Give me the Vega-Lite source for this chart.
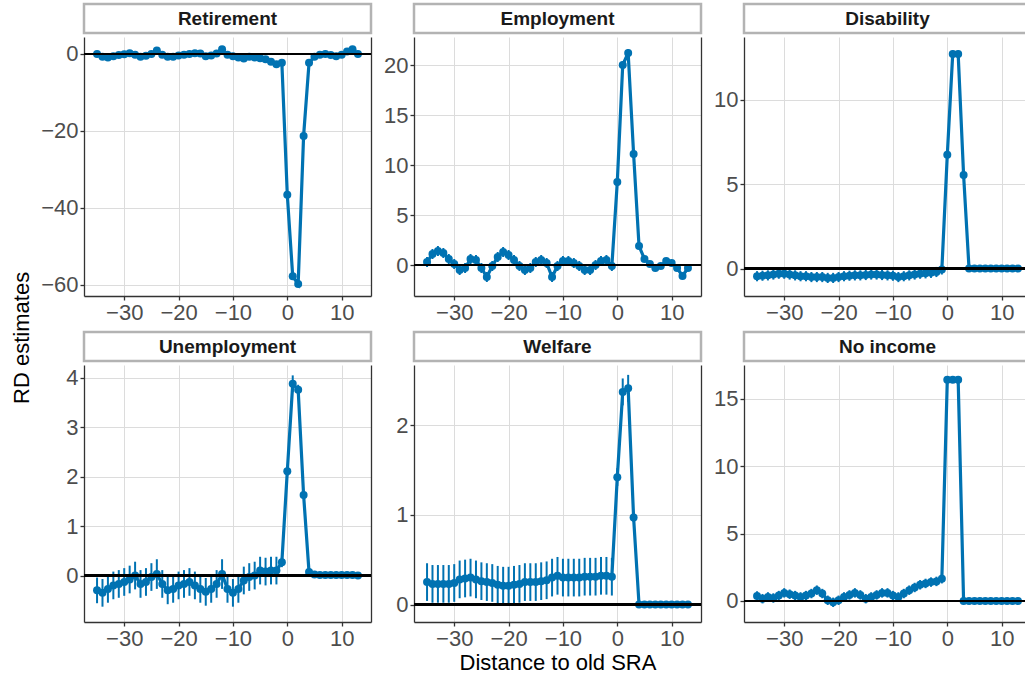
{
 "$schema": "https://vega.github.io/schema/vega-lite/v6.json",
 "padding": {"left": 10, "top": 2, "right": 0, "bottom": 0},
 "datasets": {
  "strips": [{"panel":"Retirement"},{"panel":"Employment"},{"panel":"Disability"},{"panel":"Unemployment"},{"panel":"Welfare"},{"panel":"No income"}],
  "rd": [
{"panel":"Retirement","x":-35,"y":0,"e":0.5},{"panel":"Retirement","x":-34,"y":-0.7,"e":0.5},{"panel":"Retirement","x":-33,"y":-0.9,"e":0.5},{"panel":"Retirement","x":-32,"y":-0.6,"e":0.5},{"panel":"Retirement","x":-31,"y":-0.3,"e":0.5},{"panel":"Retirement","x":-30,"y":-0.1,"e":0.5},{"panel":"Retirement","x":-29,"y":0.2,"e":0.5},{"panel":"Retirement","x":-28,"y":-0.2,"e":0.5},{"panel":"Retirement","x":-27,"y":-0.7,"e":0.5},{"panel":"Retirement","x":-26,"y":-0.5,"e":0.5},{"panel":"Retirement","x":-25,"y":0,"e":0.5},{"panel":"Retirement","x":-24,"y":0.9,"e":0.5},{"panel":"Retirement","x":-23,"y":-0.2,"e":0.5},{"panel":"Retirement","x":-22,"y":-0.7,"e":0.5},{"panel":"Retirement","x":-21,"y":-0.7,"e":0.5},{"panel":"Retirement","x":-20,"y":-0.4,"e":0.5},{"panel":"Retirement","x":-19,"y":-0.2,"e":0.5},{"panel":"Retirement","x":-18,"y":0,"e":0.5},{"panel":"Retirement","x":-17,"y":0.2,"e":0.5},{"panel":"Retirement","x":-16,"y":0.1,"e":0.5},{"panel":"Retirement","x":-15,"y":-0.6,"e":0.5},{"panel":"Retirement","x":-14,"y":-0.4,"e":0.5},{"panel":"Retirement","x":-13,"y":0.1,"e":0.5},{"panel":"Retirement","x":-12,"y":1.2,"e":0.5},{"panel":"Retirement","x":-11,"y":-0.2,"e":0.5},{"panel":"Retirement","x":-10,"y":-0.6,"e":0.5},{"panel":"Retirement","x":-9,"y":-0.9,"e":0.5},{"panel":"Retirement","x":-8,"y":-1.2,"e":0.5},{"panel":"Retirement","x":-7,"y":-0.7,"e":0.5},{"panel":"Retirement","x":-6,"y":-0.9,"e":0.5},{"panel":"Retirement","x":-5,"y":-1.1,"e":0.5},{"panel":"Retirement","x":-4,"y":-1.4,"e":0.5},{"panel":"Retirement","x":-3,"y":-2.0,"e":0.5},{"panel":"Retirement","x":-2,"y":-2.7,"e":0.5},{"panel":"Retirement","x":-1,"y":-2.3,"e":0.5},{"panel":"Retirement","x":0,"y":-36.6,"e":0.6},{"panel":"Retirement","x":1,"y":-57.8,"e":0.6},{"panel":"Retirement","x":2,"y":-59.8,"e":0.6},{"panel":"Retirement","x":3,"y":-21.3,"e":0.6},{"panel":"Retirement","x":4,"y":-2.3,"e":0.5},{"panel":"Retirement","x":5,"y":-0.7,"e":0.5},{"panel":"Retirement","x":6,"y":-0.2,"e":0.5},{"panel":"Retirement","x":7,"y":0,"e":0.5},{"panel":"Retirement","x":8,"y":-0.3,"e":0.5},{"panel":"Retirement","x":9,"y":-0.6,"e":0.5},{"panel":"Retirement","x":10,"y":-0.2,"e":0.5},{"panel":"Retirement","x":11,"y":0.6,"e":0.5},{"panel":"Retirement","x":12,"y":1.2,"e":0.5},{"panel":"Retirement","x":13,"y":0,"e":0.5},
{"panel":"Employment","x":-35,"y":0.3,"e":0.5},{"panel":"Employment","x":-34,"y":1.1,"e":0.5},{"panel":"Employment","x":-33,"y":1.4,"e":0.5},{"panel":"Employment","x":-32,"y":1.2,"e":0.5},{"panel":"Employment","x":-31,"y":0.6,"e":0.5},{"panel":"Employment","x":-30,"y":0.1,"e":0.5},{"panel":"Employment","x":-29,"y":-0.5,"e":0.5},{"panel":"Employment","x":-28,"y":-0.3,"e":0.5},{"panel":"Employment","x":-27,"y":0.6,"e":0.5},{"panel":"Employment","x":-26,"y":0.5,"e":0.5},{"panel":"Employment","x":-25,"y":-0.3,"e":0.5},{"panel":"Employment","x":-24,"y":-1.2,"e":0.5},{"panel":"Employment","x":-23,"y":-0.1,"e":0.5},{"panel":"Employment","x":-22,"y":0.8,"e":0.5},{"panel":"Employment","x":-21,"y":1.3,"e":0.5},{"panel":"Employment","x":-20,"y":1.0,"e":0.5},{"panel":"Employment","x":-19,"y":0.5,"e":0.5},{"panel":"Employment","x":-18,"y":-0.1,"e":0.5},{"panel":"Employment","x":-17,"y":-0.5,"e":0.5},{"panel":"Employment","x":-16,"y":-0.3,"e":0.5},{"panel":"Employment","x":-15,"y":0.3,"e":0.5},{"panel":"Employment","x":-14,"y":0.5,"e":0.5},{"panel":"Employment","x":-13,"y":0.2,"e":0.5},{"panel":"Employment","x":-12,"y":-1.2,"e":0.5},{"panel":"Employment","x":-11,"y":-0.1,"e":0.5},{"panel":"Employment","x":-10,"y":0.4,"e":0.5},{"panel":"Employment","x":-9,"y":0.4,"e":0.5},{"panel":"Employment","x":-8,"y":0.2,"e":0.5},{"panel":"Employment","x":-7,"y":-0.1,"e":0.5},{"panel":"Employment","x":-6,"y":-0.5,"e":0.5},{"panel":"Employment","x":-5,"y":-0.5,"e":0.5},{"panel":"Employment","x":-4,"y":0,"e":0.5},{"panel":"Employment","x":-3,"y":0.4,"e":0.5},{"panel":"Employment","x":-2,"y":0.5,"e":0.5},{"panel":"Employment","x":-1,"y":-0.1,"e":0.5},{"panel":"Employment","x":0,"y":8.3,"e":0.4},{"panel":"Employment","x":1,"y":20.0,"e":0.4},{"panel":"Employment","x":2,"y":21.2,"e":0.4},{"panel":"Employment","x":3,"y":11.1,"e":0.4},{"panel":"Employment","x":4,"y":1.9,"e":0.3},{"panel":"Employment","x":5,"y":0.6,"e":0.3},{"panel":"Employment","x":6,"y":0.1,"e":0.3},{"panel":"Employment","x":7,"y":-0.3,"e":0.3},{"panel":"Employment","x":8,"y":-0.1,"e":0.3},{"panel":"Employment","x":9,"y":0.4,"e":0.3},{"panel":"Employment","x":10,"y":0.2,"e":0.3},{"panel":"Employment","x":11,"y":-0.3,"e":0.3},{"panel":"Employment","x":12,"y":-1.1,"e":0.3},{"panel":"Employment","x":13,"y":-0.3,"e":0.3},
{"panel":"Disability","x":-35,"y":-0.45,"e":0.3},{"panel":"Disability","x":-34,"y":-0.42,"e":0.3},{"panel":"Disability","x":-33,"y":-0.4,"e":0.3},{"panel":"Disability","x":-32,"y":-0.35,"e":0.3},{"panel":"Disability","x":-31,"y":-0.3,"e":0.3},{"panel":"Disability","x":-30,"y":-0.3,"e":0.3},{"panel":"Disability","x":-29,"y":-0.35,"e":0.3},{"panel":"Disability","x":-28,"y":-0.4,"e":0.3},{"panel":"Disability","x":-27,"y":-0.45,"e":0.3},{"panel":"Disability","x":-26,"y":-0.45,"e":0.3},{"panel":"Disability","x":-25,"y":-0.5,"e":0.3},{"panel":"Disability","x":-24,"y":-0.5,"e":0.3},{"panel":"Disability","x":-23,"y":-0.5,"e":0.3},{"panel":"Disability","x":-22,"y":-0.55,"e":0.3},{"panel":"Disability","x":-21,"y":-0.55,"e":0.3},{"panel":"Disability","x":-20,"y":-0.5,"e":0.3},{"panel":"Disability","x":-19,"y":-0.45,"e":0.3},{"panel":"Disability","x":-18,"y":-0.42,"e":0.3},{"panel":"Disability","x":-17,"y":-0.4,"e":0.3},{"panel":"Disability","x":-16,"y":-0.4,"e":0.3},{"panel":"Disability","x":-15,"y":-0.38,"e":0.3},{"panel":"Disability","x":-14,"y":-0.35,"e":0.3},{"panel":"Disability","x":-13,"y":-0.35,"e":0.3},{"panel":"Disability","x":-12,"y":-0.38,"e":0.3},{"panel":"Disability","x":-11,"y":-0.4,"e":0.3},{"panel":"Disability","x":-10,"y":-0.42,"e":0.3},{"panel":"Disability","x":-9,"y":-0.5,"e":0.3},{"panel":"Disability","x":-8,"y":-0.45,"e":0.3},{"panel":"Disability","x":-7,"y":-0.4,"e":0.3},{"panel":"Disability","x":-6,"y":-0.35,"e":0.3},{"panel":"Disability","x":-5,"y":-0.3,"e":0.3},{"panel":"Disability","x":-4,"y":-0.28,"e":0.3},{"panel":"Disability","x":-3,"y":-0.25,"e":0.3},{"panel":"Disability","x":-2,"y":-0.2,"e":0.3},{"panel":"Disability","x":-1,"y":-0.05,"e":0.3},{"panel":"Disability","x":0,"y":6.73,"e":0.2},{"panel":"Disability","x":1,"y":12.7,"e":0.2},{"panel":"Disability","x":2,"y":12.7,"e":0.2},{"panel":"Disability","x":3,"y":5.54,"e":0.2},{"panel":"Disability","x":4,"y":0,"e":0.05},{"panel":"Disability","x":5,"y":0,"e":0.05},{"panel":"Disability","x":6,"y":0,"e":0.05},{"panel":"Disability","x":7,"y":0,"e":0.05},{"panel":"Disability","x":8,"y":0,"e":0.05},{"panel":"Disability","x":9,"y":0,"e":0.05},{"panel":"Disability","x":10,"y":0,"e":0.05},{"panel":"Disability","x":11,"y":0,"e":0.05},{"panel":"Disability","x":12,"y":0,"e":0.05},{"panel":"Disability","x":13,"y":0,"e":0.05},
{"panel":"Unemployment","x":-35,"y":-0.3,"e":0.26},{"panel":"Unemployment","x":-34,"y":-0.35,"e":0.28},{"panel":"Unemployment","x":-33,"y":-0.27,"e":0.28},{"panel":"Unemployment","x":-32,"y":-0.2,"e":0.28},{"panel":"Unemployment","x":-31,"y":-0.17,"e":0.28},{"panel":"Unemployment","x":-30,"y":-0.13,"e":0.28},{"panel":"Unemployment","x":-29,"y":-0.08,"e":0.28},{"panel":"Unemployment","x":-28,"y":0,"e":0.28},{"panel":"Unemployment","x":-27,"y":-0.17,"e":0.28},{"panel":"Unemployment","x":-26,"y":-0.13,"e":0.28},{"panel":"Unemployment","x":-25,"y":-0.03,"e":0.28},{"panel":"Unemployment","x":-24,"y":0.03,"e":0.3},{"panel":"Unemployment","x":-23,"y":-0.17,"e":0.28},{"panel":"Unemployment","x":-22,"y":-0.3,"e":0.28},{"panel":"Unemployment","x":-21,"y":-0.27,"e":0.28},{"panel":"Unemployment","x":-20,"y":-0.2,"e":0.28},{"panel":"Unemployment","x":-19,"y":-0.17,"e":0.28},{"panel":"Unemployment","x":-18,"y":-0.13,"e":0.28},{"panel":"Unemployment","x":-17,"y":-0.2,"e":0.28},{"panel":"Unemployment","x":-16,"y":-0.27,"e":0.28},{"panel":"Unemployment","x":-15,"y":-0.33,"e":0.28},{"panel":"Unemployment","x":-14,"y":-0.27,"e":0.28},{"panel":"Unemployment","x":-13,"y":-0.17,"e":0.28},{"panel":"Unemployment","x":-12,"y":0.03,"e":0.3},{"panel":"Unemployment","x":-11,"y":-0.27,"e":0.28},{"panel":"Unemployment","x":-10,"y":-0.35,"e":0.28},{"panel":"Unemployment","x":-9,"y":-0.27,"e":0.28},{"panel":"Unemployment","x":-8,"y":-0.1,"e":0.28},{"panel":"Unemployment","x":-7,"y":-0.03,"e":0.28},{"panel":"Unemployment","x":-6,"y":0,"e":0.28},{"panel":"Unemployment","x":-5,"y":0.1,"e":0.28},{"panel":"Unemployment","x":-4,"y":0.08,"e":0.28},{"panel":"Unemployment","x":-3,"y":0.1,"e":0.28},{"panel":"Unemployment","x":-2,"y":0.1,"e":0.28},{"panel":"Unemployment","x":-1,"y":0.27,"e":0.1},{"panel":"Unemployment","x":0,"y":2.11,"e":0.1},{"panel":"Unemployment","x":1,"y":3.88,"e":0.17},{"panel":"Unemployment","x":2,"y":3.76,"e":0.1},{"panel":"Unemployment","x":3,"y":1.63,"e":0.05},{"panel":"Unemployment","x":4,"y":0.07,"e":0.03},{"panel":"Unemployment","x":5,"y":0.02,"e":0.02},{"panel":"Unemployment","x":6,"y":0.01,"e":0.02},{"panel":"Unemployment","x":7,"y":0.01,"e":0.02},{"panel":"Unemployment","x":8,"y":0.01,"e":0.02},{"panel":"Unemployment","x":9,"y":0.01,"e":0.02},{"panel":"Unemployment","x":10,"y":0.01,"e":0.02},{"panel":"Unemployment","x":11,"y":0.01,"e":0.02},{"panel":"Unemployment","x":12,"y":0.01,"e":0.02},{"panel":"Unemployment","x":13,"y":0,"e":0.02},
{"panel":"Welfare","x":-35,"y":0.25,"e":0.21},{"panel":"Welfare","x":-34,"y":0.23,"e":0.21},{"panel":"Welfare","x":-33,"y":0.23,"e":0.21},{"panel":"Welfare","x":-32,"y":0.23,"e":0.21},{"panel":"Welfare","x":-31,"y":0.23,"e":0.21},{"panel":"Welfare","x":-30,"y":0.24,"e":0.21},{"panel":"Welfare","x":-29,"y":0.28,"e":0.21},{"panel":"Welfare","x":-28,"y":0.29,"e":0.21},{"panel":"Welfare","x":-27,"y":0.3,"e":0.21},{"panel":"Welfare","x":-26,"y":0.28,"e":0.21},{"panel":"Welfare","x":-25,"y":0.26,"e":0.21},{"panel":"Welfare","x":-24,"y":0.25,"e":0.21},{"panel":"Welfare","x":-23,"y":0.24,"e":0.21},{"panel":"Welfare","x":-22,"y":0.22,"e":0.21},{"panel":"Welfare","x":-21,"y":0.21,"e":0.21},{"panel":"Welfare","x":-20,"y":0.21,"e":0.21},{"panel":"Welfare","x":-19,"y":0.22,"e":0.21},{"panel":"Welfare","x":-18,"y":0.23,"e":0.21},{"panel":"Welfare","x":-17,"y":0.25,"e":0.21},{"panel":"Welfare","x":-16,"y":0.25,"e":0.21},{"panel":"Welfare","x":-15,"y":0.25,"e":0.21},{"panel":"Welfare","x":-14,"y":0.26,"e":0.21},{"panel":"Welfare","x":-13,"y":0.27,"e":0.21},{"panel":"Welfare","x":-12,"y":0.3,"e":0.21},{"panel":"Welfare","x":-11,"y":0.32,"e":0.21},{"panel":"Welfare","x":-10,"y":0.3,"e":0.21},{"panel":"Welfare","x":-9,"y":0.3,"e":0.21},{"panel":"Welfare","x":-8,"y":0.3,"e":0.21},{"panel":"Welfare","x":-7,"y":0.3,"e":0.21},{"panel":"Welfare","x":-6,"y":0.31,"e":0.21},{"panel":"Welfare","x":-5,"y":0.31,"e":0.21},{"panel":"Welfare","x":-4,"y":0.31,"e":0.21},{"panel":"Welfare","x":-3,"y":0.32,"e":0.21},{"panel":"Welfare","x":-2,"y":0.32,"e":0.21},{"panel":"Welfare","x":-1,"y":0.31,"e":0.21},{"panel":"Welfare","x":0,"y":1.42,"e":0.1},{"panel":"Welfare","x":1,"y":2.37,"e":0.15},{"panel":"Welfare","x":2,"y":2.41,"e":0.15},{"panel":"Welfare","x":3,"y":0.97,"e":0.05},{"panel":"Welfare","x":4,"y":0,"e":0.01},{"panel":"Welfare","x":5,"y":0,"e":0.01},{"panel":"Welfare","x":6,"y":0,"e":0.01},{"panel":"Welfare","x":7,"y":0,"e":0.01},{"panel":"Welfare","x":8,"y":0,"e":0.01},{"panel":"Welfare","x":9,"y":0,"e":0.01},{"panel":"Welfare","x":10,"y":0,"e":0.01},{"panel":"Welfare","x":11,"y":0,"e":0.01},{"panel":"Welfare","x":12,"y":0,"e":0.01},{"panel":"Welfare","x":13,"y":0,"e":0.01},
{"panel":"No income","x":-35,"y":0.37,"e":0.35},{"panel":"No income","x":-34,"y":0.17,"e":0.35},{"panel":"No income","x":-33,"y":0.3,"e":0.35},{"panel":"No income","x":-32,"y":0.22,"e":0.35},{"panel":"No income","x":-31,"y":0.4,"e":0.35},{"panel":"No income","x":-30,"y":0.6,"e":0.35},{"panel":"No income","x":-29,"y":0.5,"e":0.35},{"panel":"No income","x":-28,"y":0.4,"e":0.35},{"panel":"No income","x":-27,"y":0.3,"e":0.35},{"panel":"No income","x":-26,"y":0.4,"e":0.35},{"panel":"No income","x":-25,"y":0.55,"e":0.35},{"panel":"No income","x":-24,"y":0.8,"e":0.35},{"panel":"No income","x":-23,"y":0.55,"e":0.35},{"panel":"No income","x":-22,"y":0.05,"e":0.35},{"panel":"No income","x":-21,"y":-0.1,"e":0.35},{"panel":"No income","x":-20,"y":0.05,"e":0.35},{"panel":"No income","x":-19,"y":0.3,"e":0.35},{"panel":"No income","x":-18,"y":0.45,"e":0.35},{"panel":"No income","x":-17,"y":0.6,"e":0.35},{"panel":"No income","x":-16,"y":0.45,"e":0.35},{"panel":"No income","x":-15,"y":0.17,"e":0.35},{"panel":"No income","x":-14,"y":0.3,"e":0.35},{"panel":"No income","x":-13,"y":0.45,"e":0.35},{"panel":"No income","x":-12,"y":0.6,"e":0.35},{"panel":"No income","x":-11,"y":0.6,"e":0.35},{"panel":"No income","x":-10,"y":0.4,"e":0.35},{"panel":"No income","x":-9,"y":0.3,"e":0.35},{"panel":"No income","x":-8,"y":0.55,"e":0.35},{"panel":"No income","x":-7,"y":0.8,"e":0.35},{"panel":"No income","x":-6,"y":1.0,"e":0.35},{"panel":"No income","x":-5,"y":1.2,"e":0.35},{"panel":"No income","x":-4,"y":1.3,"e":0.35},{"panel":"No income","x":-3,"y":1.4,"e":0.35},{"panel":"No income","x":-2,"y":1.45,"e":0.35},{"panel":"No income","x":-1,"y":1.65,"e":0.35},{"panel":"No income","x":0,"y":16.4,"e":0.2},{"panel":"No income","x":1,"y":16.4,"e":0.2},{"panel":"No income","x":2,"y":16.4,"e":0.2},{"panel":"No income","x":3,"y":0,"e":0.05},{"panel":"No income","x":4,"y":0,"e":0.05},{"panel":"No income","x":5,"y":0,"e":0.05},{"panel":"No income","x":6,"y":0,"e":0.05},{"panel":"No income","x":7,"y":0,"e":0.05},{"panel":"No income","x":8,"y":0,"e":0.05},{"panel":"No income","x":9,"y":0,"e":0.05},{"panel":"No income","x":10,"y":0,"e":0.05},{"panel":"No income","x":11,"y":0,"e":0.05},{"panel":"No income","x":12,"y":0,"e":0.05},{"panel":"No income","x":13,"y":0,"e":0.05}
  ]
 },
 "title": {"text": "RD estimates", "orient": "left", "anchor": "middle", "fontSize": 22, "fontWeight": "normal", "color": "black", "offset": 7},
 "columns": 3,
 "align": "each",
 "spacing": {"row": 7, "column": 10},
 "concat": [
  {"spacing": 2, "vconcat": [
   {"width": 287, "height": 29, "view": {"stroke": "#b3b3b3", "strokeWidth": 2.5, "fill": "white"}, "data": {"name": "strips"}, "transform": [{"filter": "datum.panel === 'Retirement'"}],
    "mark": {"type": "text", "fontSize": 19, "fontWeight": "bold", "color": "#1a1a1a", "baseline": "middle", "align": "center"}, "encoding": {"text": {"field": "panel"}}},
   {"width": 287, "height": 259, "data": {"name": "rd"}, "transform": [{"filter": "datum.panel === 'Retirement'"}], "resolve": {"axis": {"y": "independent"}},
    "layer": [
     {"mark": {"type": "errorbar", "color": "#0072B2", "thickness": 2}, "encoding": {"x": {"field": "x", "type": "quantitative", "scale": {"domain": [-37.4, 15.4], "nice": false, "zero": false}, "axis": {"values": [-30,-20,-10,0,10], "title": null}}, "y": {"field": "y", "type": "quantitative", "scale": {"domain": [-62.9, 4.4], "nice": false, "zero": false}, "axis": null}, "yError": {"field": "e"}}},
     {"mark": {"type": "line", "color": "#0072B2", "strokeWidth": 3.2}, "encoding": {"x": {"field": "x", "type": "quantitative"}, "y": {"field": "y", "type": "quantitative", "scale": {"domain": [-62.9, 4.4], "nice": false, "zero": false}, "axis": {"values": [-60,-40,-20,0], "title": null, "grid": true}}}},
     {"mark": {"type": "circle", "color": "#0072B2", "size": 64, "opacity": 1}, "encoding": {"x": {"field": "x", "type": "quantitative"}, "y": {"field": "y", "type": "quantitative", "axis": null}}},
     {"mark": {"type": "rule", "color": "black", "strokeWidth": 1.5}, "encoding": {"y": {"datum": 0, "type": "quantitative", "axis": {"orient": "right", "labels": false, "ticks": false, "grid": false, "domain": true, "title": null}}}}
    ]}
  ]},
  {"spacing": 2, "vconcat": [
   {"width": 287, "height": 29, "view": {"stroke": "#b3b3b3", "strokeWidth": 2.5, "fill": "white"}, "data": {"name": "strips"}, "transform": [{"filter": "datum.panel === 'Employment'"}],
    "mark": {"type": "text", "fontSize": 19, "fontWeight": "bold", "color": "#1a1a1a", "baseline": "middle", "align": "center"}, "encoding": {"text": {"field": "panel"}}},
   {"width": 287, "height": 259, "data": {"name": "rd"}, "transform": [{"filter": "datum.panel === 'Employment'"}], "resolve": {"axis": {"y": "independent"}},
    "layer": [
     {"mark": {"type": "errorbar", "color": "#0072B2", "thickness": 2}, "encoding": {"x": {"field": "x", "type": "quantitative", "scale": {"domain": [-37.4, 15.4], "nice": false, "zero": false}, "axis": {"values": [-30,-20,-10,0,10], "title": null}}, "y": {"field": "y", "type": "quantitative", "scale": {"domain": [-3.1, 22.8], "nice": false, "zero": false}, "axis": null}, "yError": {"field": "e"}}},
     {"mark": {"type": "line", "color": "#0072B2", "strokeWidth": 3.2}, "encoding": {"x": {"field": "x", "type": "quantitative"}, "y": {"field": "y", "type": "quantitative", "scale": {"domain": [-3.1, 22.8], "nice": false, "zero": false}, "axis": {"values": [0,5,10,15,20], "title": null, "grid": true}}}},
     {"mark": {"type": "circle", "color": "#0072B2", "size": 64, "opacity": 1}, "encoding": {"x": {"field": "x", "type": "quantitative"}, "y": {"field": "y", "type": "quantitative", "axis": null}}},
     {"mark": {"type": "rule", "color": "black", "strokeWidth": 1.5}, "encoding": {"y": {"datum": 0, "type": "quantitative", "axis": {"orient": "right", "labels": false, "ticks": false, "grid": false, "domain": true, "title": null}}}}
    ]}
  ]},
  {"spacing": 2, "vconcat": [
   {"width": 287, "height": 29, "view": {"stroke": "#b3b3b3", "strokeWidth": 2.5, "fill": "white"}, "data": {"name": "strips"}, "transform": [{"filter": "datum.panel === 'Disability'"}],
    "mark": {"type": "text", "fontSize": 19, "fontWeight": "bold", "color": "#1a1a1a", "baseline": "middle", "align": "center"}, "encoding": {"text": {"field": "panel"}}},
   {"width": 287, "height": 259, "data": {"name": "rd"}, "transform": [{"filter": "datum.panel === 'Disability'"}], "resolve": {"axis": {"y": "independent"}},
    "layer": [
     {"mark": {"type": "errorbar", "color": "#0072B2", "thickness": 2}, "encoding": {"x": {"field": "x", "type": "quantitative", "scale": {"domain": [-37.4, 15.4], "nice": false, "zero": false}, "axis": {"values": [-30,-20,-10,0,10], "title": null}}, "y": {"field": "y", "type": "quantitative", "scale": {"domain": [-1.62, 13.7], "nice": false, "zero": false}, "axis": null}, "yError": {"field": "e"}}},
     {"mark": {"type": "line", "color": "#0072B2", "strokeWidth": 3.2}, "encoding": {"x": {"field": "x", "type": "quantitative"}, "y": {"field": "y", "type": "quantitative", "scale": {"domain": [-1.62, 13.7], "nice": false, "zero": false}, "axis": {"values": [0,5,10], "title": null, "grid": true}}}},
     {"mark": {"type": "circle", "color": "#0072B2", "size": 64, "opacity": 1}, "encoding": {"x": {"field": "x", "type": "quantitative"}, "y": {"field": "y", "type": "quantitative", "axis": null}}},
     {"mark": {"type": "rule", "color": "black", "strokeWidth": 1.5}, "encoding": {"y": {"datum": 0, "type": "quantitative", "axis": {"orient": "right", "labels": false, "ticks": false, "grid": false, "domain": true, "title": null}}}}
    ]}
  ]},
  {"spacing": 2, "vconcat": [
   {"width": 287, "height": 29, "view": {"stroke": "#b3b3b3", "strokeWidth": 2.5, "fill": "white"}, "data": {"name": "strips"}, "transform": [{"filter": "datum.panel === 'Unemployment'"}],
    "mark": {"type": "text", "fontSize": 19, "fontWeight": "bold", "color": "#1a1a1a", "baseline": "middle", "align": "center"}, "encoding": {"text": {"field": "panel"}}},
   {"width": 287, "height": 257, "data": {"name": "rd"}, "transform": [{"filter": "datum.panel === 'Unemployment'"}], "resolve": {"axis": {"y": "independent"}},
    "layer": [
     {"mark": {"type": "errorbar", "color": "#0072B2", "thickness": 2}, "encoding": {"x": {"field": "x", "type": "quantitative", "scale": {"domain": [-37.4, 15.4], "nice": false, "zero": false}, "axis": {"values": [-30,-20,-10,0,10], "title": null}}, "y": {"field": "y", "type": "quantitative", "scale": {"domain": [-0.94, 4.26], "nice": false, "zero": false}, "axis": null}, "yError": {"field": "e"}}},
     {"mark": {"type": "line", "color": "#0072B2", "strokeWidth": 3.2}, "encoding": {"x": {"field": "x", "type": "quantitative"}, "y": {"field": "y", "type": "quantitative", "scale": {"domain": [-0.94, 4.26], "nice": false, "zero": false}, "axis": {"values": [0,1,2,3,4], "title": null, "grid": true}}}},
     {"mark": {"type": "circle", "color": "#0072B2", "size": 64, "opacity": 1}, "encoding": {"x": {"field": "x", "type": "quantitative"}, "y": {"field": "y", "type": "quantitative", "axis": null}}},
     {"mark": {"type": "rule", "color": "black", "strokeWidth": 1.5}, "encoding": {"y": {"datum": 0, "type": "quantitative", "axis": {"orient": "right", "labels": false, "ticks": false, "grid": false, "domain": true, "title": null}}}}
    ]}
  ]},
  {"spacing": 2, "vconcat": [
   {"width": 287, "height": 29, "view": {"stroke": "#b3b3b3", "strokeWidth": 2.5, "fill": "white"}, "data": {"name": "strips"}, "transform": [{"filter": "datum.panel === 'Welfare'"}],
    "mark": {"type": "text", "fontSize": 19, "fontWeight": "bold", "color": "#1a1a1a", "baseline": "middle", "align": "center"}, "encoding": {"text": {"field": "panel"}}},
   {"width": 287, "height": 257, "data": {"name": "rd"}, "transform": [{"filter": "datum.panel === 'Welfare'"}], "resolve": {"axis": {"y": "independent"}},
    "layer": [
     {"mark": {"type": "errorbar", "color": "#0072B2", "thickness": 2}, "encoding": {"x": {"field": "x", "type": "quantitative", "scale": {"domain": [-37.4, 15.4], "nice": false, "zero": false}, "axis": {"values": [-30,-20,-10,0,10], "title": "Distance to old SRA"}}, "y": {"field": "y", "type": "quantitative", "scale": {"domain": [-0.195, 2.67], "nice": false, "zero": false}, "axis": null}, "yError": {"field": "e"}}},
     {"mark": {"type": "line", "color": "#0072B2", "strokeWidth": 3.2}, "encoding": {"x": {"field": "x", "type": "quantitative"}, "y": {"field": "y", "type": "quantitative", "scale": {"domain": [-0.195, 2.67], "nice": false, "zero": false}, "axis": {"values": [0,1,2], "title": null, "grid": true}}}},
     {"mark": {"type": "circle", "color": "#0072B2", "size": 64, "opacity": 1}, "encoding": {"x": {"field": "x", "type": "quantitative"}, "y": {"field": "y", "type": "quantitative", "axis": null}}},
     {"mark": {"type": "rule", "color": "black", "strokeWidth": 1.5}, "encoding": {"y": {"datum": 0, "type": "quantitative", "axis": {"orient": "right", "labels": false, "ticks": false, "grid": false, "domain": true, "title": null}}}}
    ]}
  ]},
  {"spacing": 2, "vconcat": [
   {"width": 287, "height": 29, "view": {"stroke": "#b3b3b3", "strokeWidth": 2.5, "fill": "white"}, "data": {"name": "strips"}, "transform": [{"filter": "datum.panel === 'No income'"}],
    "mark": {"type": "text", "fontSize": 19, "fontWeight": "bold", "color": "#1a1a1a", "baseline": "middle", "align": "center"}, "encoding": {"text": {"field": "panel"}}},
   {"width": 287, "height": 257, "data": {"name": "rd"}, "transform": [{"filter": "datum.panel === 'No income'"}], "resolve": {"axis": {"y": "independent"}},
    "layer": [
     {"mark": {"type": "errorbar", "color": "#0072B2", "thickness": 2}, "encoding": {"x": {"field": "x", "type": "quantitative", "scale": {"domain": [-37.4, 15.4], "nice": false, "zero": false}, "axis": {"values": [-30,-20,-10,0,10], "title": null}}, "y": {"field": "y", "type": "quantitative", "scale": {"domain": [-1.56, 17.5], "nice": false, "zero": false}, "axis": null}, "yError": {"field": "e"}}},
     {"mark": {"type": "line", "color": "#0072B2", "strokeWidth": 3.2}, "encoding": {"x": {"field": "x", "type": "quantitative"}, "y": {"field": "y", "type": "quantitative", "scale": {"domain": [-1.56, 17.5], "nice": false, "zero": false}, "axis": {"values": [0,5,10,15], "title": null, "grid": true}}}},
     {"mark": {"type": "circle", "color": "#0072B2", "size": 64, "opacity": 1}, "encoding": {"x": {"field": "x", "type": "quantitative"}, "y": {"field": "y", "type": "quantitative", "axis": null}}},
     {"mark": {"type": "rule", "color": "black", "strokeWidth": 1.5}, "encoding": {"y": {"datum": 0, "type": "quantitative", "axis": {"orient": "right", "labels": false, "ticks": false, "grid": false, "domain": true, "title": null}}}}
    ]}
  ]}
 ],
 "config": {
  "font": "Liberation Sans",
  "view": {"stroke": null},
  "axis": {"domainColor": "#333333", "domainWidth": 1.3, "tickColor": "#333333", "tickWidth": 1.3, "tickSize": 4, "labelColor": "#4d4d4d", "labelFontSize": 22, "labelPadding": 2, "gridColor": "#dcdcdc", "gridWidth": 1, "titleFontSize": 22, "titleFontWeight": "normal", "titleColor": "black", "titlePadding": 3, "labelFont": "Liberation Sans", "titleFont": "Liberation Sans"},
  "title": {"font": "Liberation Sans"}
 }
}
